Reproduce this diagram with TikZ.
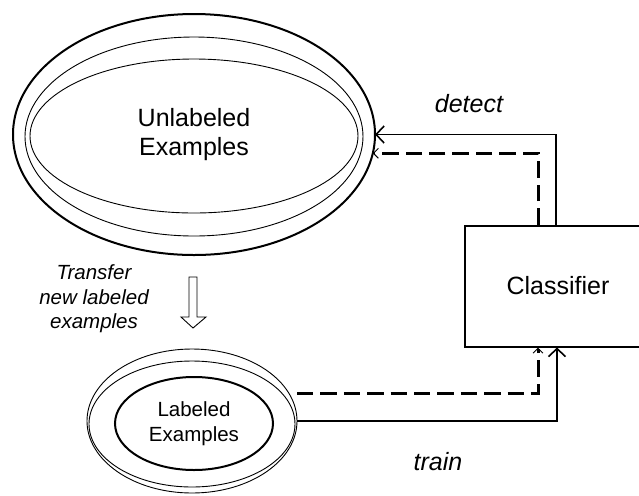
\documentclass[tikz,border=0pt]{standalone}
\usepackage{fontspec}
\setmainfont{Liberation Sans}
\usetikzlibrary{shapes.geometric,arrows.meta}
\newcommand{\bigtxt}{\fontsize{12.5}{14.5}\selectfont}
\newcommand{\smalltxt}{\fontsize{10.25}{12.25}\selectfont}
\begin{document}
\begin{tikzpicture}[x=0.5pt, y=-0.5pt,
  ell/.style={ellipse, draw, inner sep=0, outer sep=0, align=center},
  thinline/.style={line width=0.45pt},
  thickline/.style={line width=1pt},
  solidarr/.style={line width=0.8pt, -{Straight Barb[length=4pt,width=8.5pt]}},
  dasharr/.style={line width=1.5pt, dash pattern=on 8.2pt off 3.5pt,
    -{Straight Barb[length=2.5pt,width=5pt,line width=0.45pt]}},
  lbl/.style={align=center, inner sep=0, font=\bigtxt\itshape}]
\useasboundingbox (0,0) rectangle (639,495);

% unlabeled pool
\node[ell, thickline, minimum width=181pt, minimum height=120.5pt, font=\bigtxt] (unl) at (194,134.5) {Unlabeled\\Examples};
\draw[thinline] (194,136.5) ellipse [x radius=169, y radius=99.5];
\draw[thinline] (194,136) ellipse [x radius=164, y radius=77];

% labeled pool
\node[ell, thinline, minimum width=105pt, minimum height=72pt] (lab) at (192,421) {};
\draw[thinline] (192,424) ellipse [x radius=103, y radius=63];
\node[ell, thickline, minimum width=79pt, minimum height=46.5pt, font=\smalltxt] (labin) at (194,423.5) {Labeled\\Examples};

% classifier
\node[draw, thickline, minimum width=93pt, minimum height=60.5pt, inner sep=0, font=\bigtxt] (clf) at (558,286) {Classifier};

\draw[solidarr] ([xshift=-1pt]clf.north) |- (unl.east);
\draw[dasharr] ([xshift=-10pt]clf.north) |- (unl.-6);
\draw[solidarr] (lab.east) -| ([xshift=-0.5pt]clf.south);
\draw[dasharr] ([yshift=14pt]lab.east) -| ([xshift=-10pt]clf.south);

\node[lbl] (det) at (469,104) {detect};
\node[lbl] (trn) at (438,462) {train};
\node[lbl, font=\smalltxt\itshape] (xfer) at (94,299) {Transfer\\new labeled\\examples};

% hollow arrow
\coordinate (xf) at (193,277);
\draw[thinline] (xf) ++(-4,0) -- ++(8,0) -- ++(0,40) -- ++(9,0) -- (193,328) -- (181,317) -- ++(8,0) -- cycle;
\end{tikzpicture}
\end{document}
